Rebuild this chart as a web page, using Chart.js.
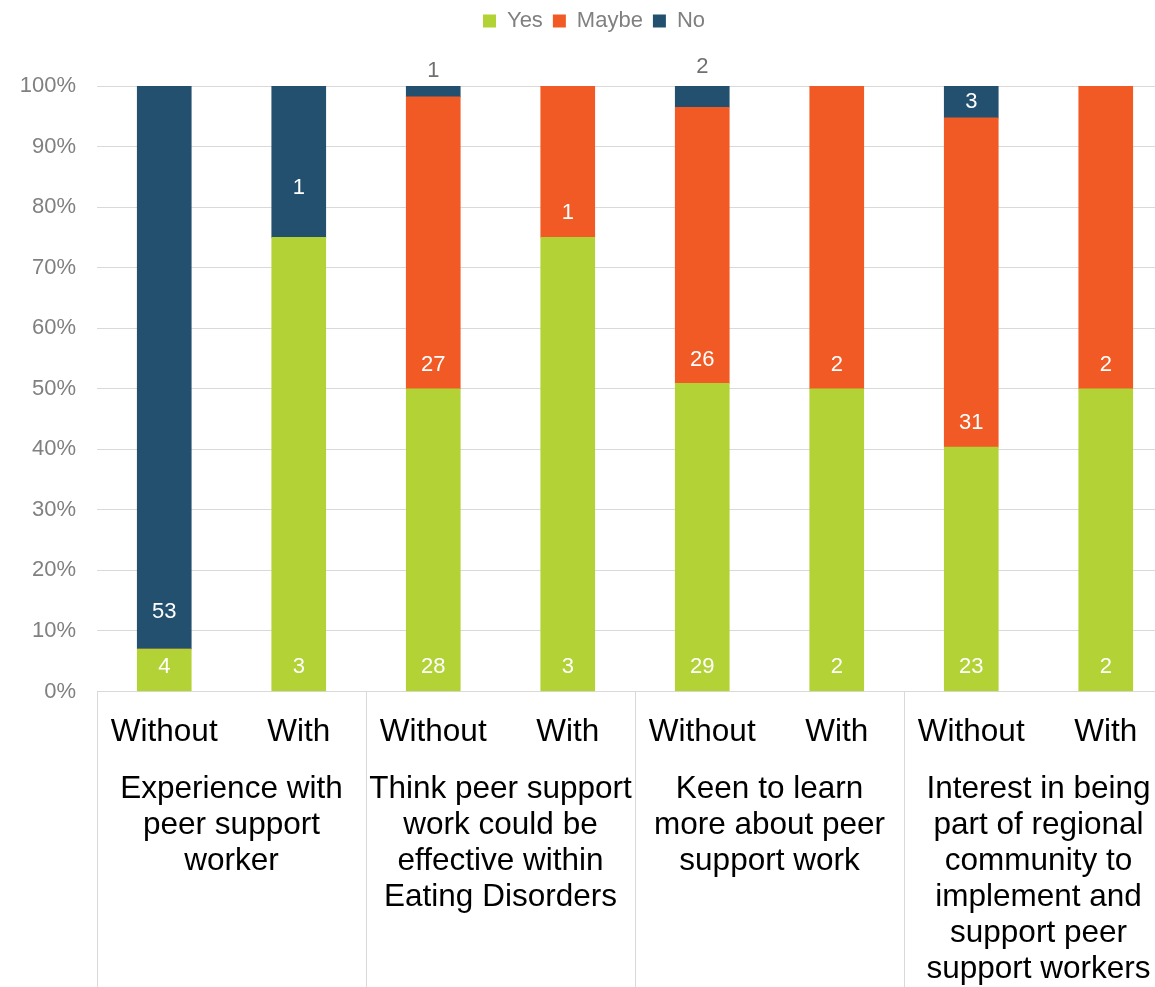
<!DOCTYPE html>
<html>
<head>
<meta charset="utf-8">
<title>Peer support survey</title>
<script src="https://cdn.jsdelivr.net/npm/chart.js@4.4.1/dist/chart.umd.min.js"></script>
<style>
  html, body { margin: 0; padding: 0; background: #fff; overflow: hidden; }
  canvas { display: block; }
</style>
</head>
<body>
<canvas id="surveyChart" width="1173" height="987"></canvas>
<script>
// answer counts per bar, bars go Without/With for each question
var categories = ['Without', 'With', 'Without', 'With', 'Without', 'With', 'Without', 'With'];
var groupLabels = [
  ['Experience with', 'peer support', 'worker'],
  ['Think peer support', 'work could be', 'effective within', 'Eating Disorders'],
  ['Keen to learn', 'more about peer', 'support work'],
  ['Interest in being', 'part of regional', 'community to', 'implement and', 'support peer', 'support workers']
];
var yesCounts   = [4, 3, 28, 3, 29, 2, 23, 2];
var maybeCounts = [0, 0, 27, 1, 26, 2, 31, 2];
var noCounts    = [53, 1, 1, 0, 2, 0, 3, 0];
var yTicks = [0, 10, 20, 30, 40, 50, 60, 70, 80, 90, 100];

// where the "No" counts sit (in % on the y scale), some were pulled above the bar
var noLabelAt = [13.1, 83.2, 102.5, null, 103.2, null, 97.4, null];

var seriesCounts = [yesCounts, maybeCounts, noCounts];
var FONT = '"Liberation Sans", Arial, sans-serif';

function share(counts, i) {
  var total = yesCounts[i] + maybeCounts[i] + noCounts[i];
  return counts[i] / total * 100;
}

// thin lines splitting the question groups under the axis
var groupDividers = {
  id: 'groupDividers',
  afterDraw: function (chart) {
    var x = chart.scales.x;
    var step = x.getPixelForValue(1) - x.getPixelForValue(0);
    var ctx = chart.ctx;
    ctx.save();
    ctx.strokeStyle = '#d9d9d9';
    ctx.lineWidth = 1;
    ctx.beginPath();
    for (var i = 0; i <= categories.length; i += 2) {
      var px = Math.round(x.getPixelForValue(i) - step / 2) + 0.5;
      ctx.moveTo(px, x.top);
      ctx.lineTo(px, chart.height);
    }
    ctx.stroke();
    ctx.restore();
  }
};

// count labels, near the base of each segment
var countLabels = {
  id: 'countLabels',
  afterDatasetsDraw: function (chart) {
    var ctx = chart.ctx;
    var y = chart.scales.y;
    ctx.save();
    ctx.font = '22px ' + FONT;
    ctx.textAlign = 'center';
    ctx.textBaseline = 'middle';
    seriesCounts.forEach(function (counts, d) {
      chart.getDatasetMeta(d).data.forEach(function (bar, i) {
        if (!counts[i]) return;
        var ly = bar.base - 24;
        if (d === 2) ly = y.getPixelForValue(noLabelAt[i]);
        ctx.fillStyle = ly < bar.y ? '#707070' : '#ffffff';
        ctx.fillText(String(counts[i]), bar.x, ly);
      });
    });
    ctx.restore();
  }
};

Chart.defaults.font.family = FONT;

new Chart(document.getElementById('surveyChart'), {
  type: 'bar',
  data: {
    labels: categories,
    datasets: [
      { label: 'Yes',   data: categories.map(function (c, i) { return share(yesCounts, i); }),   backgroundColor: '#b2d235' },
      { label: 'Maybe', data: categories.map(function (c, i) { return share(maybeCounts, i); }), backgroundColor: '#f15a24' },
      { label: 'No',    data: categories.map(function (c, i) { return share(noCounts, i); }),    backgroundColor: '#24506f' }
    ]
  },
  options: {
    responsive: false,
    animation: false,
    events: [],
    barThickness: 54,
    layout: { padding: { left: 15, right: 0, top: 0, bottom: 0 } },
    plugins: {
      legend: {
        position: 'top',
        labels: {
          boxWidth: 13,
          boxHeight: 13,
          padding: 10,
          color: '#808080',
          font: { size: 22 }
        }
      },
      // empty subtitle just keeps the gap between legend and plot
      subtitle: {
        display: true,
        text: '',
        weight: 500,
        font: { size: 10 },
        padding: { top: 0, bottom: 32 }
      },
      tooltip: { enabled: false }
    },
    scales: {
      x: {
        stacked: true,
        grid: { display: false },
        border: { display: true, color: '#d9d9d9', width: 1 },
        ticks: {
          color: '#000000',
          font: { size: 31.5, lineHeight: '36px' },
          padding: 15,
          autoSkip: false,
          maxRotation: 0,
          minRotation: 0
        },
        afterFit: function (scale) { scale.height = 60; }
      },
      x2: {
        type: 'category',
        position: 'bottom',
        labels: groupLabels,
        offset: true,
        grid: { display: false },
        border: { display: false },
        ticks: {
          color: '#000000',
          font: { size: 31.5, lineHeight: '36px' },
          padding: 11.5,
          autoSkip: false,
          maxRotation: 0,
          minRotation: 0
        },
        afterFit: function (scale) { scale.height = 235.5; }
      },
      y: {
        stacked: true,
        min: 0,
        max: 100,
        afterBuildTicks: function (scale) {
          scale.ticks = yTicks.map(function (v) { return { value: v }; });
        },
        grid: { color: '#d9d9d9', drawTicks: false },
        border: { display: false },
        ticks: {
          color: '#808080',
          font: { size: 22 },
          padding: 21,
          callback: function (v) { return v + '%'; }
        },
        afterFit: function (scale) { scale.width = 82; }
      }
    }
  },
  plugins: [groupDividers, countLabels]
});
</script>
</body>
</html>
